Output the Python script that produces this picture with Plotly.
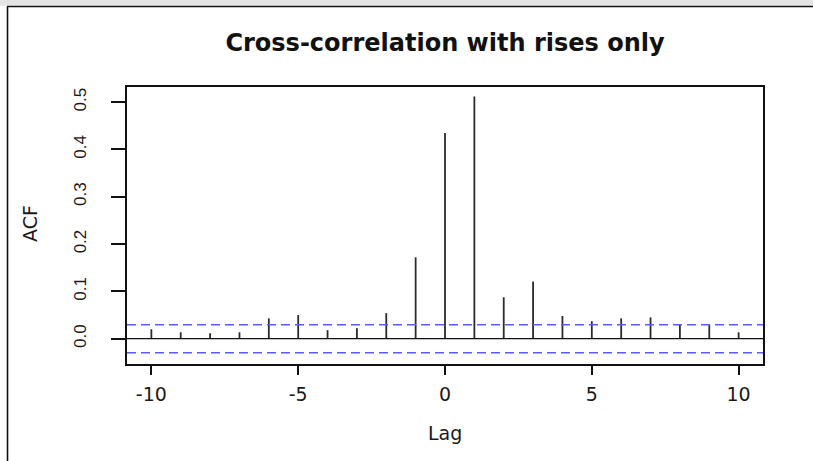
import plotly.graph_objects as go

# Cross-correlation estimates by lag
lags = [-10, -9, -8, -7, -6, -5, -4, -3, -2, -1, 0, 1, 2, 3, 4, 5, 6, 7, 8, 9, 10]
ccf_values = [0.020, 0.0135, 0.0114, 0.0135, 0.043, 0.050, 0.018, 0.022, 0.054, 0.172,
              0.435, 0.512, 0.0875, 0.121, 0.048, 0.037, 0.043, 0.045, 0.031, 0.030, 0.0135]
conf_bound = 0.0297  # approximate 95% significance bound

x_ticks = [-10, -5, 0, 5, 10]
x_tick_text = ["-10", "-5", "0", "5", "10"]
y_ticks = [0.0, 0.1, 0.2, 0.3, 0.4, 0.5]
y_tick_text = ["0.0", "0.1", "0.2", "0.3", "0.4", "0.5"]

# plot region in pixels (figure is 813 x 461)
W, H = 813, 461
L, R, T, B = 127, 763, 87, 364


def px(xp):
    return (xp - L) / (R - L)


def py(yp):
    return (B - yp) / (B - T)


# vertical spikes from zero to each estimate
sx, sy = [], []
for lag, v in zip(lags, ccf_values):
    sx += [lag, lag, None]
    sy += [0, v, None]

fig = go.Figure()
fig.add_trace(go.Scatter(x=sx, y=sy, mode="lines",
                         line=dict(color="#2b2b2b", width=1.8),
                         hoverinfo="skip", showlegend=False))

shapes = []
for s in (conf_bound, -conf_bound):
    shapes.append(dict(type="line", xref="paper", yref="y", x0=0, x1=1, y0=s, y1=s,
                       line=dict(color="#5a5aff", width=1.5, dash="9px,5px")))
# zero line across the panel
shapes.append(dict(type="line", xref="paper", yref="y", x0=0, x1=1, y0=0, y1=0,
                   line=dict(color="#111111", width=1.2)))
# page frame
shapes.append(dict(type="rect", xref="paper", yref="paper", x0=px(0), x1=px(W),
                   y0=py(5.5), y1=py(0), fillcolor="#e4e4e4", line=dict(width=0), layer="below"))
shapes.append(dict(type="line", xref="paper", yref="paper", x0=px(7), x1=px(W),
                   y0=py(6.5), y1=py(6.5), line=dict(color="#111111", width=1.6)))
shapes.append(dict(type="line", xref="paper", yref="paper", x0=px(7.5), x1=px(7.5),
                   y0=py(6.5), y1=py(H), line=dict(color="#111111", width=1.6)))

annotations = [
    dict(text="ACF", xref="paper", yref="paper", x=px(30), y=py(224), showarrow=False,
         textangle=-90, xanchor="center", yanchor="middle",
         font=dict(family="DejaVu Sans", size=19, color="#1a1a1a")),
    dict(text="Lag", xref="paper", yref="paper", x=px(445), y=py(433), showarrow=False,
         xanchor="center", yanchor="middle",
         font=dict(family="DejaVu Sans", size=19, color="#1a1a1a")),
]

fig.update_layout(
    width=W, height=H,
    margin=dict(l=L, r=W - R, t=T, b=H - B, pad=0),
    paper_bgcolor="white", plot_bgcolor="white",
    title=dict(text="<b>Cross-correlation with rises only</b>", x=0.5, xref="paper",
               y=1 - 43 / H, yref="container", xanchor="center", yanchor="middle",
               font=dict(family="DejaVu Sans", size=24, color="#111111")),
    xaxis=dict(range=[-10.83, 10.83], tickvals=x_ticks, ticktext=x_tick_text,
               ticks="outside", ticklen=9,
               tickwidth=1.5, tickcolor="#111111", showline=True, mirror=True,
               linecolor="#111111", linewidth=1.6, showgrid=False, zeroline=False,
               ticklabelstandoff=3,
               tickfont=dict(family="DejaVu Sans", size=19, color="#1a1a1a")),
    yaxis=dict(range=[-0.0535, 0.532], tickvals=y_ticks, ticktext=y_tick_text,
               ticks="outside", ticklen=14, tickwidth=1.5, tickcolor="#111111",
               tickangle=-90, showline=True, mirror=True, linecolor="#111111",
               linewidth=1.6, showgrid=False, zeroline=False, ticklabelstandoff=18,
               tickfont=dict(family="Liberation Sans", size=17, color="#1a1a1a")),
    shapes=shapes,
    annotations=annotations,
)

fig.write_html("out.html")
